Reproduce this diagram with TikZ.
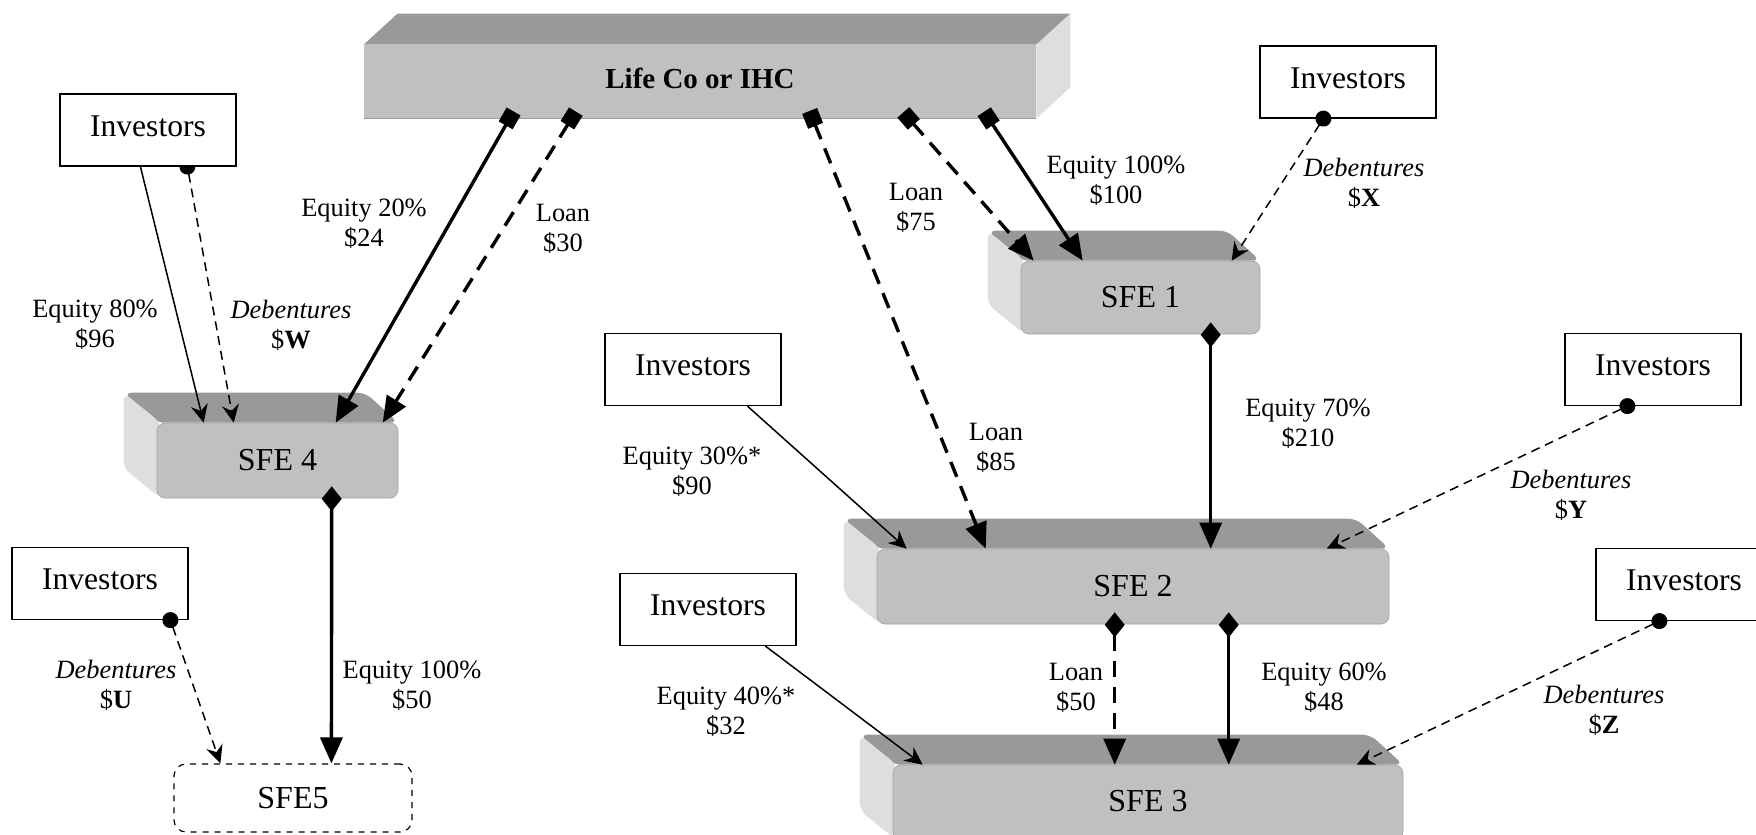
\documentclass[tikz,border=0pt]{standalone}
\usepackage{fontspec}
\setmainfont{Liberation Serif}
\usetikzlibrary{arrows.meta,calc,backgrounds}
\definecolor{frontgray}{HTML}{C0C0C0}
\definecolor{topgray}{HTML}{999999}
\definecolor{sidegray}{HTML}{DEDEDE}
\tikzset{
  inv/.style={draw,line width=0.6pt,fill=white,minimum width=88pt,minimum height=36pt,inner sep=0pt,font=\fontsize{15.8}{18}\selectfont},
  sfebox/.style={fill=frontgray,draw=frontgray!85!black,line width=0.3pt,rounded corners=4pt,inner sep=0pt,font=\fontsize{16}{19}\selectfont},
  lifebox/.style={fill=frontgray,inner sep=0pt,minimum width=336pt,minimum height=36.5pt,font=\bfseries\fontsize{14.5}{17}\selectfont},
  lbl/.style={align=center,inner sep=0pt,font=\fontsize{13.2}{15}\selectfont},
  thickline/.style={line width=1.7pt},
  thinline/.style={line width=0.75pt},
  thickdash/.style={dash pattern=on 8pt off 5pt},
  thindash/.style={dash pattern=on 4.5pt off 3pt},
  sqarrow/.style={thickline,{Square[length=8pt,width=8pt]}-{Triangle[length=13pt,width=11pt]},shorten <=-4pt},
  dmarrow/.style={thickline,{Turned Square[length=12.5pt,width=10pt]}-{Triangle[length=13pt,width=11pt]},shorten <=-6pt},
  dotarrow/.style={thinline,thindash,{Circle[length=8pt]}-{Stealth[length=9pt,width=8.5pt,inset=3pt]},shorten <=-4pt},
  plainarrow/.style={thinline,-{Stealth[length=9pt,width=8.5pt,inset=3pt]}}
}
\begin{document}
\begin{tikzpicture}[x=0.5pt,y=-0.5pt]
\path[use as bounding box] (0,0) rectangle (1756,835);
\clip (0,0) rectangle (1756,835);

% main boxes
\node[lifebox] (lifeco) at (700,81.5) {\raisebox{3.5pt}{Life Co or IHC}};
\node[sfebox,minimum width=119.5pt,minimum height=36.5pt] (sfe1) at (1140.5,297.5) {SFE 1};
\node[sfebox,minimum width=256pt,minimum height=37.5pt] (sfe2) at (1133,586.5) {SFE 2};
\node[sfebox,minimum width=255pt,minimum height=37.5pt] (sfe3) at (1148,802.5) {\raisebox{2pt}{SFE 3}};
\node[sfebox,minimum width=120.5pt,minimum height=37.5pt] (sfe4) at (277.5,460.5) {SFE 4};
\node[draw,dashed,line width=0.6pt,rounded corners=6pt,minimum width=119pt,minimum height=34pt,inner sep=0pt,font=\fontsize{16}{19}\selectfont] (sfe5) at (293,798) {SFE5};

% investors
\node[inv] (i1) at (148,130) {\raisebox{4pt}{Investors}};
\node[inv] (i2) at (1348,82) {\raisebox{4pt}{Investors}};
\node[inv] (i3) at (693,369.5) {\raisebox{4pt}{Investors}};
\node[inv] (i4) at (1653,369.5) {\raisebox{4pt}{Investors}};
\node[inv] (i5) at (100,583.5) {\raisebox{4pt}{Investors}};
\node[inv] (i6) at (708,609.5) {\raisebox{4pt}{Investors}};
\node[inv] (i7) at (1684,584.5) {\raisebox{4pt}{Investors}};

% 3D faces
\begin{scope}[on background layer]
  \fill[topgray] (lifeco.north west) -- (lifeco.north east) -- ++(34,-31) -- ($(lifeco.north west)+(34,-31)$) -- cycle;
  \fill[sidegray] (lifeco.north east) -- ++(34,-31) -- ($(lifeco.south east)+(34,-31)$) -- (lifeco.south east) -- cycle;
  \draw[frontgray!80!black,line width=0.6pt] (lifeco.south west) -- (lifeco.south east);
  \foreach \n in {sfe1,sfe2,sfe3,sfe4} {
    \fill[topgray,rounded corners=4pt] (\n.north west) -- (\n.north east) -- ++(-33,-30) -- ($(\n.north west)+(-33,-30)$) -- cycle;
    \fill[sidegray,rounded corners=4pt] ($(\n.north west)+(4,0)$) -- ($(\n.north west)+(-33,-30)$) -- ($(\n.south west)+(-33,-30)$) -- ($(\n.south west)+(4,0)$) -- cycle;
  }
  \draw[dotarrow] ($(i1.south west)+(128,0)$) -- ($(sfe4.north west)+(77,0)$);
\end{scope}

% connectors
\draw[plainarrow] ($(i1.south west)+(81,0)$) -- ($(sfe4.north west)+(47,0)$);
\draw[sqarrow] ($(lifeco.south west)+(146,0)$) -- ($(sfe4.north west)+(179,0)$);
\draw[sqarrow,thickdash] ($(lifeco.south west)+(208,0)$) -- ($(sfe4.north west)+(226,0)$);
\draw[sqarrow,thickdash] ($(lifeco.south west)+(449,0)$) -- ($(sfe2.north west)+(109,0)$);
\draw[sqarrow,thickdash] ($(lifeco.south west)+(545,0)$) -- ($(sfe1.north west)+(13,0)$);
\draw[sqarrow] ($(lifeco.south west)+(625,0)$) -- ($(sfe1.north west)+(62,0)$);
\draw[dotarrow] ($(i2.south west)+(64,0)$) -- ($(sfe1.north west)+(211,0)$);
\draw[dmarrow] ($(sfe1.south west)+(190,0)$) -- ($(sfe2.north west)+(334,0)$);
\draw[plainarrow] ($(i3.south west)+(143,0)$) -- ($(sfe2.north west)+(30,0)$);
\draw[dotarrow] ($(i4.south west)+(63,0)$) -- ($(sfe2.north west)+(450,0)$);
\draw[dmarrow,thickdash] ($(sfe2.south west)+(238,0)$) -- ($(sfe3.north west)+(222,0)$);
\draw[dmarrow] ($(sfe2.south west)+(352,0)$) -- ($(sfe3.north west)+(336,0)$);
\draw[plainarrow] ($(i6.south west)+(146,0)$) -- ($(sfe3.north west)+(30,0)$);
\draw[dotarrow] ($(i7.south west)+(64,0)$) -- ($(sfe3.north west)+(464,0)$);
\draw[dmarrow] ($(sfe4.south west)+(175,0)$) -- ($(sfe5.north west)+(158,0)$);
\draw[dotarrow] ($(i5.south west)+(159,0)$) -- ($(sfe5.north west)+(47,0)$);

% labels
\node[lbl] (l1) at (95,325) {Equity 80\%\\\$96};
\node[lbl] (l2) at (291,325) {\textit{Debentures}\\\$\textbf{W}};
\node[lbl] (l3) at (364,224) {Equity 20\%\\\$24};
\node[lbl] (l4) at (563,229) {Loan\\\$30};
\node[lbl] (l5) at (916,208) {Loan\\\$75};
\node[lbl] (l6) at (1116,181) {Equity 100\%\\\$100};
\node[lbl] (l7) at (1364,183) {\textit{Debentures}\\\$\textbf{X}};
\node[lbl] (l8) at (1308,424) {Equity 70\%\\\$210};
\node[lbl] (l9) at (996,448) {Loan\\\$85};
\node[lbl] (l10) at (692,472) {Equity 30\%*\\\$90};
\node[lbl] (l11) at (1571,495) {\textit{Debentures}\\\$\textbf{Y}};
\node[lbl] (l12) at (1076,688) {Loan\\\$50};
\node[lbl] (l13) at (1324,688) {Equity 60\%\\\$48};
\node[lbl] (l14) at (726,712) {Equity 40\%*\\\$32};
\node[lbl] (l15) at (1604,710) {\textit{Debentures}\\\$\textbf{Z}};
\node[lbl] (l16) at (412,686) {Equity 100\%\\\$50};
\node[lbl] (l17) at (116,685) {\textit{Debentures}\\\$\textbf{U}};
\end{tikzpicture}
\end{document}
